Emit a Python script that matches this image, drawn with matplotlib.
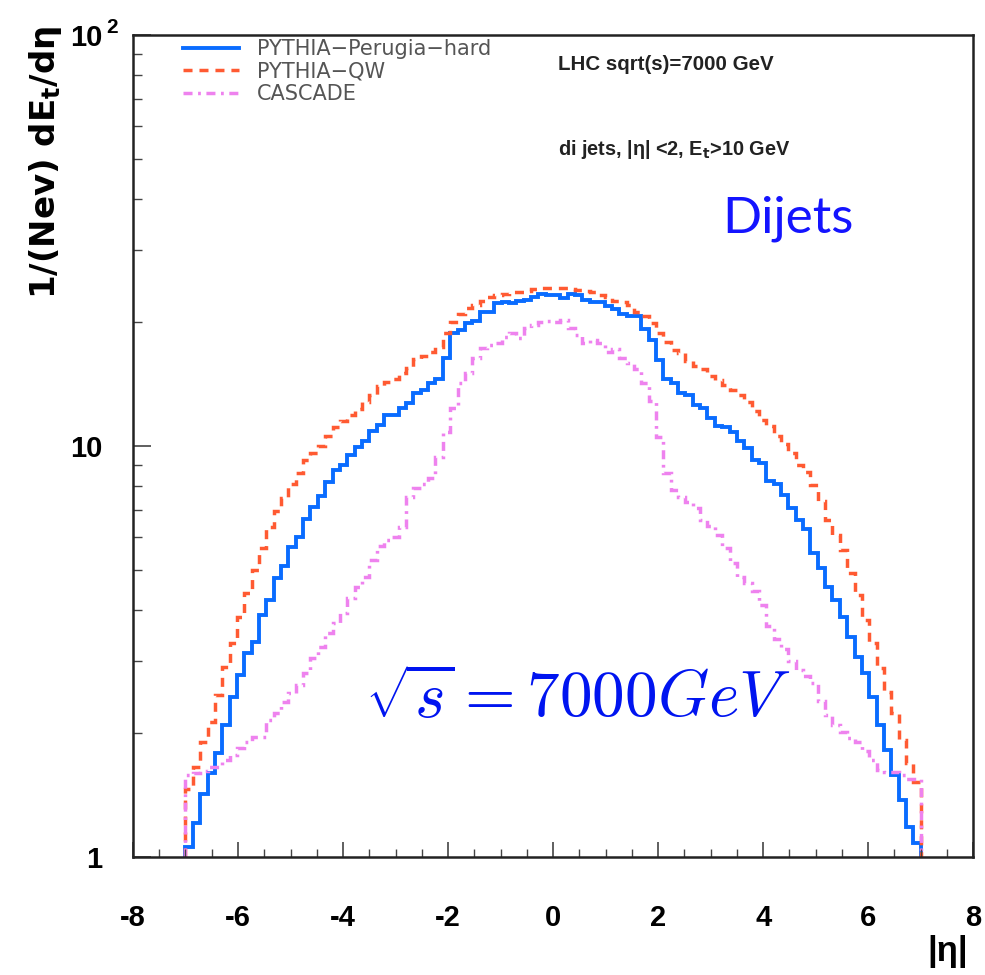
import numpy as np
import matplotlib.pyplot as plt
from matplotlib.ticker import MultipleLocator, NullFormatter, LogLocator

plt.rcParams['font.family'] = ['Liberation Sans', 'DejaVu Sans']

# histogram binning in eta
eta_lo, eta_hi, n_bins = -7.0, 7.0, 100

# 1/(Nev) dEt/deta per bin
perugia_hard = [
    1.06, 1.21, 1.42, 1.60, 1.79, 2.10, 2.45, 2.77, 3.14, 3.33,
    3.88, 4.22, 4.77, 5.10, 5.68, 6.00, 6.64, 7.10, 7.56, 8.17,
    8.74, 9.00, 9.51, 9.95, 10.3, 10.86, 11.27, 11.9, 11.9, 12.4,
    12.7, 13.5, 13.7, 14.2, 14.6, 16.4, 18.8, 19.2, 19.9, 20.1,
    21.2, 21.2, 22.3, 22.4, 22.3, 22.6, 22.7, 23.0, 23.5, 23.3,
    23.3, 22.9, 23.4, 23.3, 22.7, 22.4, 22.4, 21.9, 21.5, 20.9,
    20.7, 20.7, 19.3, 18.1, 16.2, 14.6, 14.2, 13.5, 13.3, 12.6,
    12.4, 11.7, 11.2, 11.1, 10.8, 10.3, 9.9, 9.23, 9.1, 8.2,
    8.1, 7.6, 7.06, 6.6, 6.3, 5.5, 5.05, 4.53, 4.22, 3.84,
    3.43, 3.07, 2.80, 2.45, 2.10, 1.82, 1.58, 1.38, 1.18, 1.08]

qw = [
    1.46, 1.66, 1.91, 2.13, 2.48, 2.90, 3.32, 3.84, 4.39, 4.99,
    5.65, 6.35, 6.95, 7.47, 8.10, 8.60, 9.23, 9.60, 10.0, 10.6,
    11.1, 11.5, 11.9, 12.3, 12.8, 13.3, 14.0, 14.3, 14.6, 15.1,
    15.5, 16.3, 16.6, 16.9, 17.4, 18.8, 20.0, 21.0, 21.7, 22.0,
    22.6, 23.0, 23.3, 23.5, 23.7, 23.7, 23.9, 24.1, 24.2, 24.2,
    24.2, 24.2, 24.1, 24.0, 23.9, 23.7, 23.3, 23.1, 22.6, 22.4,
    22.1, 21.2, 20.7, 19.9, 18.8, 17.9, 17.1, 16.8, 16.1, 15.7,
    15.4, 14.8, 14.5, 14.1, 13.7, 13.3, 12.8, 12.2, 11.6, 11.2,
    10.6, 10.1, 9.6, 9.0, 8.65, 8.05, 7.37, 6.6, 6.07, 5.58,
    4.9, 4.34, 3.77, 3.32, 2.88, 2.52, 2.24, 1.93, 1.69, 1.52]

cascade = [
    1.58, 1.60, 1.62, 1.66, 1.66, 1.72, 1.77, 1.84, 1.90, 1.96,
    1.96, 2.15, 2.24, 2.38, 2.50, 2.62, 2.80, 3.05, 3.24, 3.51,
    3.71, 3.92, 4.27, 4.53, 4.80, 5.28, 5.70, 5.90, 6.00, 6.35,
    7.50, 7.90, 8.10, 8.35, 9.40, 10.8, 12.4, 14.2, 15.1, 16.4,
    17.3, 17.6, 17.8, 18.4, 18.8, 18.3, 19.4, 19.7, 20.0, 20.1,
    20.0, 20.3, 19.4, 18.6, 17.8, 18.1, 17.8, 16.9, 17.2, 16.4,
    15.9, 15.4, 14.2, 12.9, 10.5, 8.6, 7.8, 7.5, 7.3, 7.06,
    6.6, 6.4, 6.07, 5.65, 5.2, 4.8, 4.64, 4.43, 4.1, 3.65,
    3.4, 3.2, 3.0, 2.85, 2.75, 2.65, 2.4, 2.22, 2.09, 2.02,
    1.95, 1.90, 1.81, 1.72, 1.63, 1.61, 1.61, 1.58, 1.55, 1.55]

labels = ['PYTHIA\u2212Perugia\u2212hard', 'PYTHIA\u2212QW', 'CASCADE']
xticks = [-8, -6, -4, -2, 0, 2, 4, 6, 8]
yticks = [1, 10, 100]
ytick_labels = ['1', '10', '10']

edges = np.linspace(eta_lo, eta_hi, n_bins + 1)

fig = plt.figure(figsize=(9.85, 9.75), dpi=100)
ax = fig.add_axes([0.135, 0.121, 0.853, 0.843])

ax.stairs(perugia_hard, edges, baseline=1, color='#0a6cff', lw=2.8, label=labels[0])
ax.stairs(qw, edges, baseline=1, color='#ff5a32', lw=2.5,
          linestyle=(0, (2.6, 2.0)), label=labels[1])
ax.stairs(cascade, edges, baseline=1, color='#ee82ee', lw=2.5,
          linestyle=(0, (2.6, 1.6, 0.8, 1.6)), label=labels[2])

ax.set_yscale('log')
ax.set_xlim(-8, 8)
ax.set_ylim(1, 100)

ax.set_xticks(xticks, labels=[str(t) for t in xticks], fontweight='bold', fontsize=21)
ax.set_yticks(yticks, labels=ytick_labels, fontweight='bold', fontsize=21)
ax.xaxis.set_minor_locator(MultipleLocator(0.5))
ax.yaxis.set_minor_locator(LogLocator(base=10, subs=np.arange(2, 10)))
ax.yaxis.set_minor_formatter(NullFormatter())
ax.tick_params(which='both', direction='in', top=False, right=False, color='#444444')
ax.tick_params(axis='x', which='major', length=11, width=1.2, pad=34)
ax.tick_params(axis='x', which='minor', length=5.5, width=1.0)
ax.tick_params(axis='y', which='major', length=13, width=1.2, pad=22)
ax.tick_params(axis='y', which='minor', length=6.5, width=1.0)
for sp in ax.spines.values():
    sp.set_linewidth(1.8)
    sp.set_color('#222222')

ax.legend(loc='upper left', bbox_to_anchor=(0.0595, 0.995), frameon=False,
          borderpad=0, borderaxespad=0, handlelength=2.7, handletextpad=0.85,
          labelspacing=0.12, prop={'family': 'DejaVu Sans', 'size': 15},
          labelcolor='#555555')

# exponent of the top y label
fig.text(0.1135, 0.972, '2', fontsize=15, fontweight='bold', ha='center', va='center')

fig.text(0.0457, 0.974, '1/(Nev) dE$_{\\mathbf{t}}$/d\u03b7', rotation=90,
         ha='center', va='top', fontsize=24.5, fontweight='bold', family='DejaVu Sans')
fig.text(0.962, 0.024, '|\u03b7|', ha='center', va='center', fontsize=25, fontweight='bold')

fig.text(0.5665, 0.9282, 'LHC sqrt(s)=7000 GeV', fontsize=14.8, fontweight='bold',
         va='baseline', color='#222222')
fig.text(0.5665, 0.841, 'di jets, |\u03b7| <2, E$_{\\mathbf{t}}$>10 GeV', fontsize=14.3,
         fontweight='bold', va='baseline', color='#222222')

fig.text(0.733, 0.762, 'Dijets', fontsize=37, color='#1414ff', va='baseline',
         family='Lato')
fig.text(0.3706, 0.2636, r'$\sqrt{s} = 7000GeV$', fontsize=47, color='#0014f0',
         va='baseline', math_fontfamily='cm')

fig.savefig('out.png', dpi=100, facecolor='white')
